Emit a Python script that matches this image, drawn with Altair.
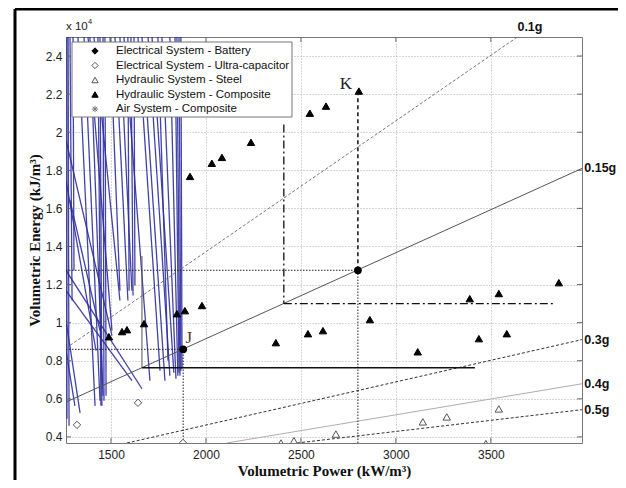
import altair as alt
import pandas as pd

# ---------------- data ----------------
x_ticks = [1500, 2000, 2500, 3000, 3500]
y_ticks = [0.4, 0.6, 0.8, 1.0, 1.2, 1.4, 1.6, 1.8, 2.0, 2.2, 2.4]   # x 10^4 kJ/m^3
X_DOMAIN = [1263, 3980]
Y_DOMAIN = [0.368, 2.5]

series_names = [
    "Electrical System - Battery",
    "Electrical System - Ultra-capacitor",
    "Hydraulic System - Steel",
    "Hydraulic System - Composite",
    "Air System - Composite",
]
asterisk = "M-1,0L1,0M0,-1L0,1M-0.7,-0.7L0.7,0.7M-0.7,0.7L0.7,-0.7"
series_shape = ["diamond", "diamond", "triangle-up", "triangle-up", asterisk]
series_fill = ["#000", "#fff", "#fff", "#000", "transparent"]
series_stroke = ["#000", "#555", "#555", "#000", "#777"]

# Hydraulic System - Composite (filled triangles)
hc_x = [1916, 2031, 2084, 2237, 2547, 2632, 2805, 1489, 1558, 1584, 1674, 1847,
        1889, 1979, 2368, 2537, 2616, 2863, 3115, 3389, 3437, 3542, 3584, 3858]
hc_y = [1.768, 1.837, 1.868, 1.947, 2.100, 2.137, 2.216, 0.926, 0.953, 0.963, 0.995, 1.047,
        1.063, 1.090, 0.895, 0.942, 0.958, 1.016, 0.847, 1.126, 0.916, 1.153, 0.942, 1.210]
# Hydraulic System - Steel (open triangles)
hs_x = [2395, 2463, 2684, 3142, 3268, 3474, 3542]
hs_y = [0.368, 0.380, 0.415, 0.479, 0.505, 0.365, 0.547]
# Electrical System - Ultra-capacitor (open diamonds)
uc_x = [1321, 1642, 1879]
uc_y = [0.463, 0.579, 0.368]

# acceleration lines (start / end points)
g_labels = ["0.1g", "0.15g", "0.3g", "0.4g", "0.5g"]
g_x0 = [1263, 1263, 1584, 2110, 2480]
g_y0 = [0.866, 0.583, 0.368, 0.368, 0.368]
g_x1 = [3640, 3980, 3980, 3980, 3980]
g_y1 = [2.500, 1.810, 0.911, 0.679, 0.543]
g_lab_x = [3640, 3992, 3992, 3992, 3992]
g_lab_y = [2.553, 1.810, 0.911, 0.679, 0.543]

# design points J and K
pt_names = ["J", "K"]
pt_x = [1880, 2800]
pt_y = [0.860, 1.275]
pt_lab_x = [1910, 2737]
pt_lab_y = [0.921, 2.253]
pt_lab_color = ["#5a3d1a", "#222222"]

# dotted guide lines
dot_x0 = [1263, 1880, 1263, 2800]
dot_y0 = [0.860, 0.368, 1.275, 0.368]
dot_x1 = [1880, 1880, 2800, 2800]
dot_y1 = [0.860, 0.860, 1.275, 1.275]
# dashed line from K up to triangle
dash_x0 = [2800]; dash_y0 = [1.275]; dash_x1 = [2800]; dash_y1 = [2.200]
# solid constraint lines (vertical thin, horizontal thick)
sv_x0 = [1663]; sv_y0 = [0.763]; sv_x1 = [1663]; sv_y1 = [1.350]
sh_x0 = [1663]; sh_y0 = [0.763]; sh_x1 = [3416]; sh_y1 = [0.763]
# dash-dot constraint lines
dd_x0 = [2410, 2410]
dd_y0 = [2.040, 1.100]
dd_x1 = [2410, 3837]
dd_y1 = [1.100, 1.100]

# blue line tangle (air system traces)
bx0 = [1268, 1274, 1284, 1300, 1263, 1263, 1263, 1263, 1263, 1263, 1284,
       1326, 1358, 1389, 1431, 1442, 1458, 1468, 1379, 1410,
       1495, 1521, 1547, 1589, 1605, 1621, 1568, 1642,
       1663, 1695, 1716, 1747, 1768, 1810, 1837, 1847, 1858, 1868]
by0 = [2.5, 2.5, 2.5, 2.5, 1.958, 1.747, 1.274, 1.168, 1.011, 0.853, 1.642,
       2.5, 2.5, 2.5, 2.5, 2.5, 2.5, 2.5, 2.5, 2.5,
       2.5, 2.5, 2.5, 2.5, 2.5, 2.5, 2.5, 2.5,
       2.5, 2.5, 2.5, 2.5, 2.5, 2.5, 2.5, 2.5, 2.5, 2.5]
bx1 = [1268, 1279, 1295, 1305, 1505, 1421, 1663, 1610, 1337, 1310, 1442,
       1416, 1442, 1458, 1447, 1452, 1463, 1474, 1505, 1547,
       1547, 1589, 1610, 1595, 1616, 1626, 1705, 1758,
       1784, 1810, 1831, 1800, 1842, 1852, 1858, 1863, 1868, 1874]
by1 = [0.495, 0.458, 1.116, 1.274, 0.932, 0.853, 0.653, 0.695, 0.526, 0.563, 0.958,
       0.563, 0.590, 0.616, 0.563, 0.563, 0.590, 0.616, 0.958, 1.116,
       1.168, 1.116, 1.168, 1.168, 1.142, 1.195, 0.695, 0.747,
       0.695, 0.721, 0.737, 0.800, 0.705, 0.721, 0.737, 0.721, 0.747, 0.758]

# ---------------- tables ----------------
pts = pd.DataFrame({
    "series": [series_names[3]] * len(hc_x) + [series_names[2]] * len(hs_x) + [series_names[1]] * len(uc_x),
    "x": hc_x + hs_x + uc_x,
    "y": hc_y + hs_y + uc_y,
})

def seg(x0, y0, x1, y1):
    return pd.DataFrame({"x": x0, "y": y0, "x2": x1, "y2": y1})

W, H = 516, 406
xs = alt.Scale(domain=X_DOMAIN, nice=False, zero=False)
ys = alt.Scale(domain=Y_DOMAIN, nice=False, zero=False)

SANS = "Liberation Sans"
SERIF = "Liberation Serif"

x_axis = alt.Axis(values=x_ticks, format="d", grid=True, gridDash=[1, 2], gridColor="#9a9a9a",
                  gridWidth=0.8, ticks=False, domain=False, labelFont=SANS, labelFontSize=12,
                  labelColor="#222", labelPadding=6,
                  title="Volumetric Power (kW/m³)", titleFont=SERIF, titleFontSize=15,
                  titleFontWeight="bold", titleColor="#111", titleBaseline="middle",
                  titleX=258, titleY=27)
y_axis = alt.Axis(values=y_ticks, format="~g", grid=True, gridDash=[1, 2], gridColor="#9a9a9a",
                  gridWidth=0.8, ticks=False, domain=False, labelFont=SANS, labelFontSize=12,
                  labelColor="#222", labelPadding=4,
                  title="Volumetric Energy (kJ/m³)", titleFont=SERIF, titleFontSize=15,
                  titleFontWeight="bold", titleColor="#111", titleBaseline="middle",
                  titleAngle=-90, titleX=-32, titleY=203)

def X(f="x"):
    return alt.X(f + ":Q", scale=xs, axis=x_axis)

def Y(f="y"):
    return alt.Y(f + ":Q", scale=ys, axis=y_axis)

def rules(df, **style):
    return alt.Chart(df).mark_rule(clip=True, **style).encode(
        x=X("x"), y=Y("y"), x2="x2:Q", y2="y2:Q")

blue = rules(seg(bx0, by0, bx1, by1), color="#2e2ea0", strokeWidth=1.3, opacity=0.9)

gdf = seg(g_x0, g_y0, g_x1, g_y1)
gdf["g"] = g_labels
g01 = rules(gdf[gdf.g == "0.1g"], color="#666", strokeWidth=0.9, strokeDash=[3, 2])
g015 = rules(gdf[gdf.g == "0.15g"], color="#555", strokeWidth=1)
g03 = rules(gdf[gdf.g.isin(["0.3g", "0.5g"])], color="#333", strokeWidth=1, strokeDash=[3, 2])
g04 = rules(gdf[gdf.g == "0.4g"], color="#bba9a9", strokeWidth=1)

dots = rules(seg(dot_x0, dot_y0, dot_x1, dot_y1), color="#222", strokeWidth=1, strokeDash=[1.5, 1.5])
dash = rules(seg(dash_x0, dash_y0, dash_x1, dash_y1), color="#111", strokeWidth=1.5, strokeDash=[4, 3])
sv = rules(seg(sv_x0, sv_y0, sv_x1, sv_y1), color="#555", strokeWidth=1)
sh = rules(seg(sh_x0, sh_y0, sh_x1, sh_y1), color="#111", strokeWidth=1.5)
dd = rules(seg(dd_x0, dd_y0, dd_x1, dd_y1), color="#111", strokeWidth=1.3, strokeDash=[8, 3, 2, 3])

markers = alt.Chart(pts).mark_point(size=55, opacity=1, strokeWidth=1, clip=True).encode(
    x=X("x"), y=Y("y"),
    shape=alt.Shape("series:N", scale=alt.Scale(domain=series_names, range=series_shape), legend=None),
    fill=alt.Fill("series:N", scale=alt.Scale(domain=series_names, range=series_fill), legend=None),
    stroke=alt.Stroke("series:N", scale=alt.Scale(domain=series_names, range=series_stroke), legend=None),
)

pdf = pd.DataFrame({"n": pt_names, "x": pt_x, "y": pt_y,
                    "lx": pt_lab_x, "ly": pt_lab_y, "c": pt_lab_color})
jk = alt.Chart(pdf).mark_point(filled=True, size=60, color="#000", opacity=1).encode(x=X("x"), y=Y("y"))
jk_lab = alt.Chart(pdf).mark_text(font=SERIF, fontSize=17, align="center", baseline="middle").encode(
    x=X("lx"), y=Y("ly"), text="n:N", color=alt.Color("c:N", scale=None))

gl = pd.DataFrame({"t": g_labels, "x": g_lab_x, "y": g_lab_y})
g_text = alt.Chart(gl).mark_text(font=SANS, fontSize=12.5, fontWeight="bold", align="left",
                                 baseline="middle", color="#111").encode(
    x=X("x"), y=Y("y"), text="t:N")

# inward tick marks on all four sides
xt = pd.DataFrame({"v": x_ticks})
yt = pd.DataFrame({"v": y_ticks})
tk = dict(color="#666", strokeWidth=1)
ticks = [
    alt.Chart(xt).mark_rule(**tk).encode(x=X("v"), y=alt.value(H), y2=alt.value(H - 5)),
    alt.Chart(xt).mark_rule(**tk).encode(x=X("v"), y=alt.value(0), y2=alt.value(5)),
    alt.Chart(yt).mark_rule(**tk).encode(y=Y("v"), x=alt.value(0), x2=alt.value(5)),
    alt.Chart(yt).mark_rule(**tk).encode(y=Y("v"), x=alt.value(W), x2=alt.value(W - 5)),
]

one = pd.DataFrame({"a": [0]})
exp1 = alt.Chart(one).mark_text(font=SANS, fontSize=11.5, align="left", baseline="middle", color="#222").encode(
    x=alt.value(0), y=alt.value(-10), text=alt.value("x 10"))
exp2 = alt.Chart(one).mark_text(font=SANS, fontSize=7.5, align="left", baseline="middle", color="#222").encode(
    x=alt.value(22), y=alt.value(-15), text=alt.value("4"))

# legend box (MATLAB style, inside the axes, top-left)
legend_layers = [
    alt.Chart(one).mark_rect(fill="white", stroke="#777", strokeWidth=1).encode(
        x=alt.value(6), x2=alt.value(226), y=alt.value(5), y2=alt.value(80))
]
for i, name in enumerate(series_names):
    yy = 14 + i * 14.5
    legend_layers.append(
        alt.Chart(one).mark_point(shape=series_shape[i], fill=series_fill[i], stroke=series_stroke[i],
                                  size=40, strokeWidth=1, opacity=1).encode(
            x=alt.value(29), y=alt.value(yy)))
    legend_layers.append(
        alt.Chart(one).mark_text(font=SANS, fontSize=11.5, align="left", baseline="middle",
                                 color="#111").encode(
            x=alt.value(50), y=alt.value(yy), text=alt.value(name)))

frame_top = alt.Chart(one).mark_rule(color="#000", strokeWidth=3).encode(
    x=alt.value(-51), x2=alt.value(560), y=alt.value(-28))
frame_left = alt.Chart(one).mark_rule(color="#000", strokeWidth=3).encode(
    x=alt.value(-51), y=alt.value(-28), y2=alt.value(451))

chart = alt.layer(
    blue, g01, g015, g03, g04, dots, dash, sv, sh, dd, *ticks,
    markers, jk, jk_lab, g_text, exp1, exp2, *legend_layers, frame_top, frame_left,
).properties(
    width=W, height=H, autosize=alt.AutoSizeParams(type="none"),
    padding={"left": 58, "top": 29, "right": 36, "bottom": 37},
    background="white",
).configure_view(stroke="#777", strokeWidth=1)

chart.save("out.html", embed_options={"renderer": "svg", "actions": False})
